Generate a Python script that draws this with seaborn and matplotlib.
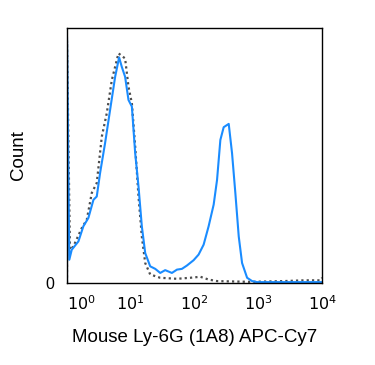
import matplotlib
matplotlib.use("Agg")
import matplotlib.pyplot as plt
import matplotlib.ticker as mticker
import seaborn as sns
import numpy as np
import pandas as pd

# Stained sample (solid blue): log10 of fluorescence and relative count
blue_log = [0.004, 0.004, 0.04, 0.078, 0.183, 0.26, 0.339, 0.418, 0.47, 0.522, 0.6,
            0.679, 0.758, 0.82, 0.862, 0.914, 0.967, 1.02, 1.072, 1.124, 1.176,
            1.229, 1.307, 1.386, 1.464, 1.542, 1.647, 1.726, 1.804, 1.882, 1.987,
            2.065, 2.144, 2.222, 2.301, 2.354, 2.406, 2.458, 2.537, 2.589, 2.641,
            2.694, 2.746, 2.825, 2.903, 2.982, 3.4, 4.0]
blue_count = [0.0, 96.6, 9.1, 13.0, 16.3, 22.2, 25.5, 32.6, 33.9, 43.1, 54.8,
              67.9, 80.9, 88.5, 84.8, 80.9, 71.8, 69.2, 50.9, 37.8, 22.2,
              11.7, 6.5, 5.5, 3.9, 5.0, 3.9, 5.2, 5.5, 6.8, 8.9,
              11.1, 15.0, 22.2, 30.7, 40.4, 56.1, 61.1, 62.4, 50.9, 35.2,
              18.2, 7.8, 2.0, 0.7, 0.3, 0.3, 0.3]

# Isotype control (dotted grey)
grey_log = [0.004, 0.004, 0.05, 0.104, 0.235, 0.314, 0.392, 0.47, 0.549, 0.627, 0.706,
            0.81, 0.914, 0.967, 1.02, 1.072, 1.124, 1.176, 1.229, 1.307, 1.464,
            1.726, 1.935, 2.092, 2.222, 2.354, 2.877, 3.4, 3.713, 3.974, 4.0]
grey_count = [0.0, 95.0, 13.0, 14.3, 21.5, 24.8, 35.3, 39.2, 57.4, 66.6, 79.6,
              90.1, 88.1, 77.0, 70.5, 53.5, 33.9, 18.2, 7.8, 3.3, 2.0,
              1.6, 2.0, 2.4, 1.3, 0.7, 0.4, 0.7, 1.0, 1.0, 2.0]

xlabel = "Mouse Ly-6G (1A8) APC-Cy7"
ylabel = "Count"

blue_df = pd.DataFrame({"value": np.power(10.0, blue_log), "count": blue_count})
grey_df = pd.DataFrame({"value": np.power(10.0, grey_log), "count": grey_count})

sns.set_style("white")
plt.rcParams["font.family"] = ["Liberation Sans", "DejaVu Sans"]
plt.rcParams["text.color"] = "black"
plt.rcParams["axes.labelcolor"] = "black"
plt.rcParams["xtick.color"] = "black"
plt.rcParams["ytick.color"] = "black"

fig = plt.figure(figsize=(3.75, 3.65), dpi=100)
ax = fig.add_axes([0.178, 0.225, 0.681, 0.698])

sns.lineplot(data=grey_df, x="value", y="count", ax=ax, sort=False, estimator=None,
             color="#4d4d4d", linewidth=1.6, linestyle=(0, (1, 1.4)))
sns.lineplot(data=blue_df, x="value", y="count", ax=ax, sort=False, estimator=None,
             color="#1a8cff", linewidth=1.5)

ax.set_xscale("log")
ax.set_xlim(1, 1e4)
ax.set_ylim(0, 100)

ax.xaxis.set_major_locator(mticker.FixedLocator([1, 10, 100, 1000, 10000]))
ax.xaxis.set_minor_locator(mticker.LogLocator(base=10, subs=np.arange(2, 10)))
ax.xaxis.set_minor_formatter(mticker.NullFormatter())
ax.set_xticklabels([r"$10^0$", r"$10^1$", r"$10^2$", r"$10^3$", r"$10^4$"], fontsize=11.5)
ax.get_xticklabels()[0].set_horizontalalignment("left")

ax.set_yticks([0])
ax.set_yticklabels(["0"], fontsize=11.5)

ax.tick_params(axis="x", which="major", direction="out", length=5, width=1, pad=3)
ax.tick_params(axis="x", which="minor", direction="out", length=3, width=1)
ax.tick_params(axis="y", which="major", direction="out", length=3, width=1, pad=6)

for side in ["top", "right", "left", "bottom"]:
    ax.spines[side].set_visible(True)
    ax.spines[side].set_color("black")
    ax.spines[side].set_linewidth(1.0)

ax.set_xlabel(xlabel, fontsize=13.5, labelpad=12)
ax.set_ylabel(ylabel, fontsize=13.5)
ax.yaxis.set_label_coords(-0.155, 0.5)

fig.savefig("out.png", dpi=100)
